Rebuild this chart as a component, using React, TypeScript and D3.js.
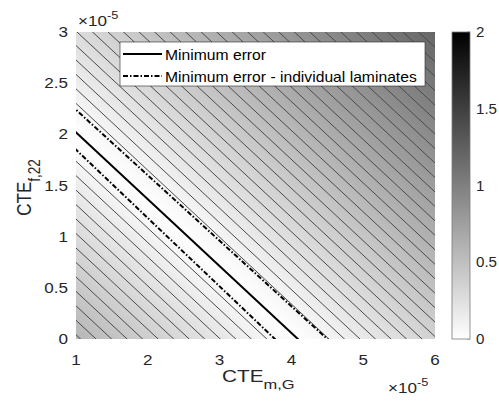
import React, { useEffect, useRef } from "react";
import * as d3 from "d3";

// axis ticks (x1e-5)
const xTicks = [1, 2, 3, 4, 5, 6];
const yTicks = [0, 0.5, 1, 1.5, 2, 2.5, 3];
const cbTicks = [0, 0.5, 1, 1.5, 2];

// lines: [CTE_m,G, CTE_f,22] at the left edge and at the bottom edge
const minErrorLine = [[1, 2.02], [4.09, 0]];
const laminateUpper = [[1, 2.24], [4.5, 0]];
const laminateLower = [[1, 1.85], [3.77, 0]];

// error grows by this much per unit of CTE_m,G away from the minimum line
const errorSlope = 0.185;
const contourLevels = [
  0.08, 0.12, 0.16, 0.2, 0.24, 0.28, 0.32, 0.36, 0.4, 0.44, 0.48, 0.52, 0.56,
  0.6, 0.64, 0.68, 0.72, 0.76, 0.8, 0.84, 0.88, 0.92, 0.96, 1.0, 1.04, 1.08,
  1.12, 1.16, 1.2,
];

const legendLabels = ["Minimum error", "Minimum error - individual laminates"];

const W = 499, H = 403;
const m = { left: 76, right: 435, top: 32, bottom: 339 };
const cb = { left: 452, right: 470 };
const font = "'Liberation Sans', Arial, Helvetica, sans-serif";
const ink = "#262626";
const sx = 1.22; // the figure was stretched sideways

export default function App() {
  const ref = useRef<SVGSVGElement>(null);

  useEffect(() => {
    const svg = d3.select(ref.current);
    svg.selectAll("*").remove();

    const x = d3.scaleLinear().domain([1, 6]).range([m.left, m.right]);
    const y = d3.scaleLinear().domain([0, 3]).range([m.bottom, m.top]);
    const color = d3.scaleLinear<string>().domain([0, 2]).range(["#ffffff", "#000000"]);
    const cy = d3.scaleLinear().domain([0, 2]).range([m.bottom, m.top]);

    const [[ax, ay], [bx]] = minErrorLine;
    const run = (bx - ax) / ay; // CTE_m,G change per unit CTE_f,22 along the line
    const field = (px: number, py: number) => errorSlope * Math.abs(px + py * run - bx);

    const defs = svg.append("defs");
    defs.append("clipPath").attr("id", "plotclip")
      .append("rect")
      .attr("x", m.left).attr("y", m.top)
      .attr("width", m.right - m.left).attr("height", m.bottom - m.top);

    // background gradient perpendicular to the minimum line
    const P0 = [x(bx), y(0)];
    const d = [x(bx) - x(ax), y(0) - y(ay)];
    const len = Math.hypot(d[0], d[1]);
    const n = [d[1] / len, -d[0] / len];
    const corners = [[1, 0], [6, 3], [1, 3], [6, 0]];
    const ts = corners.map(([cx, cyv]) => (x(cx) - P0[0]) * n[0] + (y(cyv) - P0[1]) * n[1]);
    const tmin = d3.min(ts)!, tmax = d3.max(ts)!;
    const g0 = defs.append("linearGradient").attr("id", "field")
      .attr("gradientUnits", "userSpaceOnUse")
      .attr("x1", P0[0] + tmin * n[0]).attr("y1", P0[1] + tmin * n[1])
      .attr("x2", P0[0] + tmax * n[0]).attr("y2", P0[1] + tmax * n[1]);
    g0.append("stop").attr("offset", 0).attr("stop-color", color(field(1, 0)));
    g0.append("stop").attr("offset", -tmin / (tmax - tmin)).attr("stop-color", color(0));
    g0.append("stop").attr("offset", 1).attr("stop-color", color(field(6, 3)));

    const cbg = defs.append("linearGradient").attr("id", "cbar")
      .attr("x1", 0).attr("y1", 1).attr("x2", 0).attr("y2", 0);
    cbg.append("stop").attr("offset", 0).attr("stop-color", color(0));
    cbg.append("stop").attr("offset", 1).attr("stop-color", color(2));

    svg.append("rect")
      .attr("x", m.left).attr("y", m.top)
      .attr("width", m.right - m.left).attr("height", m.bottom - m.top)
      .attr("fill", "url(#field)");

    const plot = svg.append("g").attr("clip-path", "url(#plotclip)");
    const line = d3.line<number[]>().x((p) => x(p[0])).y((p) => y(p[1]));

    // contour lines on both sides of the minimum line
    contourLevels.forEach((lv) => {
      [-1, 1].forEach((side) => {
        const x0 = bx + (side * lv) / errorSlope;
        const pts = [[x0 + run, -1], [x0 - 5 * run, 5]];
        plot.append("path").attr("d", line(pts)).attr("fill", "none")
          .attr("stroke", "#4a4a4a").attr("stroke-width", 1);
      });
    });

    const extend = (seg: number[][]) => {
      const [[x1, y1], [x2, y2]] = seg;
      const s = (x2 - x1) / (y2 - y1);
      return [[x1 + (-1 - y1) * s, -1], [x1 + (5 - y1) * s, 5]];
    };
    [laminateUpper, laminateLower].forEach((seg) => {
      plot.append("path").attr("d", line(extend(seg))).attr("fill", "none")
        .attr("stroke", "#000").attr("stroke-width", 2)
        .attr("stroke-dasharray", "5,2,1.5,2");
    });
    plot.append("path").attr("d", line(extend(minErrorLine))).attr("fill", "none")
      .attr("stroke", "#000").attr("stroke-width", 2);

    // text helper: stretched sideways like the reference
    const txt = (g: any, tx: number, ty: number, anchor: string, size: number, s = sx) =>
      g.append("text")
        .attr("transform", `translate(${tx},${ty}) scale(${s},1)`)
        .attr("text-anchor", anchor).attr("font-size", size);

    const ax1 = svg.append("g").attr("font-family", font).attr("fill", ink);
    xTicks.forEach((t) => txt(ax1, x(t), 365, "middle", 14).text(t));
    yTicks.forEach((t) => txt(ax1, m.left - 8, y(t) + 5, "end", 14).text(t));

    const exp = (tx: number, ty: number) => {
      const t = txt(ax1, tx, ty, "start", 14);
      t.append("tspan").text("\u00d710");
      t.append("tspan").attr("font-size", 10.5).attr("dy", -7).text("-5");
    };
    exp(78, 26);
    exp(388, 393);

    const xl = txt(ax1, 222, 382, "start", 17);
    xl.append("tspan").text("CTE");
    xl.append("tspan").attr("font-size", 13.5).attr("dy", 7).text("m,G");

    const yl = ax1.append("text")
      .attr("transform", `translate(31,${(m.top + m.bottom) / 2 + 2}) rotate(-90) scale(1,${sx})`)
      .attr("text-anchor", "middle").attr("font-size", 17);
    yl.append("tspan").text("CTE");
    yl.append("tspan").attr("font-size", 13.5).attr("dy", 7).text("f,22");

    // colorbar
    svg.append("rect").attr("x", cb.left).attr("y", m.top)
      .attr("width", cb.right - cb.left).attr("height", m.bottom - m.top)
      .attr("fill", "url(#cbar)").attr("stroke", "#7a7a7a").attr("stroke-width", 0.8);
    cbTicks.forEach((t) => {
      ax1.append("line").attr("x1", cb.right).attr("x2", cb.right - 3).attr("y1", cy(t)).attr("y2", cy(t))
        .attr("stroke", "#7a7a7a").attr("stroke-width", 0.8);
      txt(ax1, cb.right + 6, cy(t) + 5, "start", 14, 1.08).text(t);
    });

    // legend
    const lg = svg.append("g").attr("font-family", font).attr("fill", "#000");
    lg.append("rect").attr("x", 120).attr("y", 42).attr("width", 305).attr("height", 44)
      .attr("fill", "#fff").attr("stroke", ink).attr("stroke-width", 0.6);
    legendLabels.forEach((lab, i) => {
      const ly = 54 + i * 22;
      lg.append("line").attr("x1", 123).attr("x2", 162).attr("y1", ly).attr("y2", ly)
        .attr("stroke", "#000").attr("stroke-width", 2)
        .attr("stroke-dasharray", i === 0 ? null : "5,2,1.5,2");
      lg.append("text")
        .attr("transform", `translate(165,${ly + 5.5}) scale(1.12,1)`)
        .attr("font-size", 14).text(lab);
    });
  }, []);

  return (
    <svg ref={ref} width={W} height={H} style={{ position: "absolute", left: 0, top: 0, background: "#fff" }} />
  );
}
